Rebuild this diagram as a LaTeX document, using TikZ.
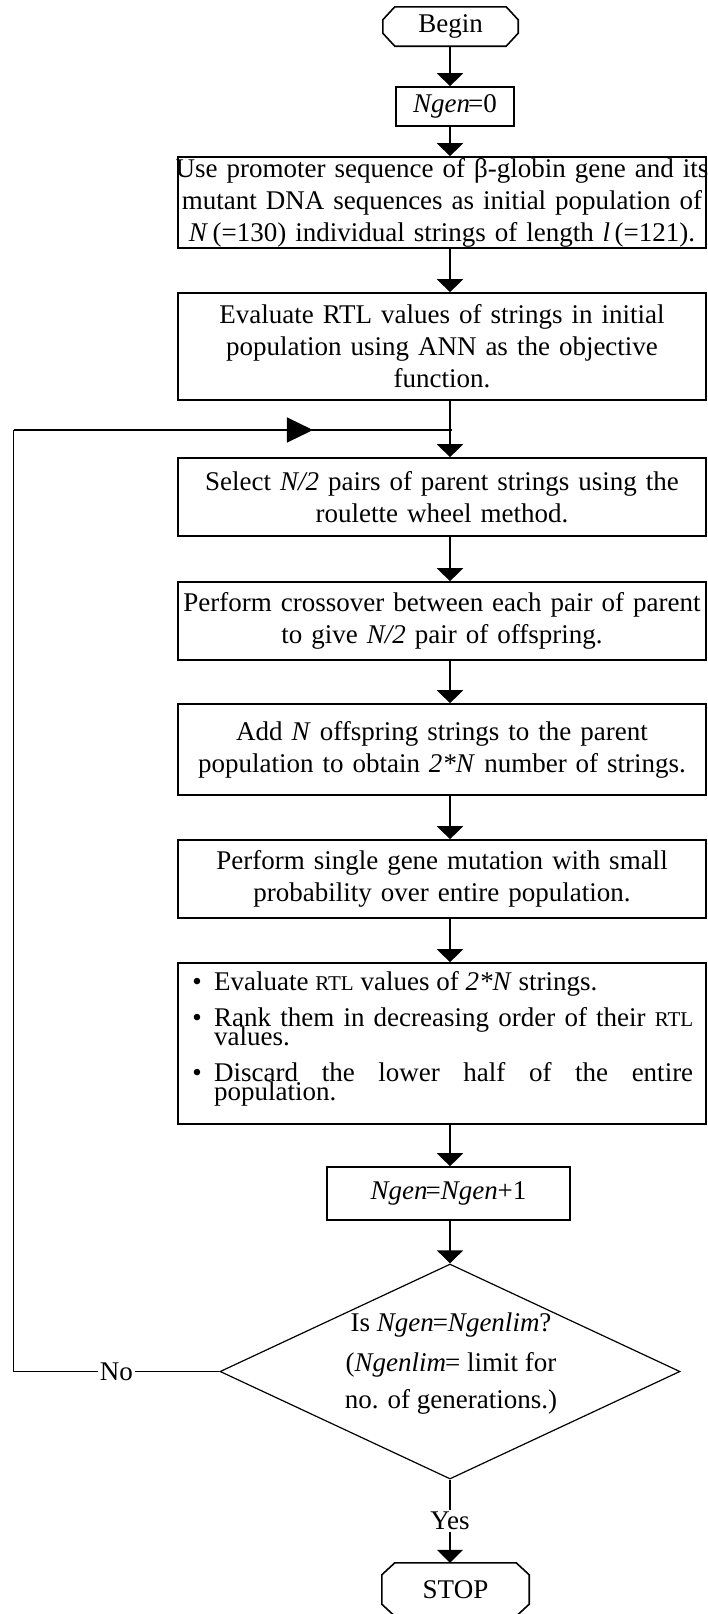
\documentclass[tikz,border=0pt]{standalone}
\usepackage{fontspec}
\setmainfont{Liberation Serif}
\usetikzlibrary{arrows.meta,shapes.geometric,decorations.markings}
\newcommand\myfs{\fontsize{27}{32}\selectfont}
\newcommand\smrtl{{\fontsize{21}{21}\selectfont RTL}}
\newcommand\fullline[1]{\makebox[528pt][c]{#1}}
\begin{document}
\begin{tikzpicture}[x=1pt,y=-1pt,
  boxline/.style={line width=1.6pt},
  proc/.style={draw, line width=1.6pt, text width=528pt, minimum width=528pt, inner sep=0pt, align=center, font=\myfs},
  smallbox/.style={draw, line width=1.6pt, inner sep=0pt, align=center, font=\myfs},
  term/.style={inner sep=0pt, font=\myfs},
  txt/.style={inner sep=0pt, font=\myfs, anchor=base west},
  conn/.style={line width=1.2pt},
  arr/.style={line width=1.2pt, -{Triangle[width=26pt,length=13pt]}},
  midarrow/.style={postaction={decorate}, decoration={markings, mark=at position 0.683 with {\arrow{Triangle[width=25pt,length=26pt]}}}}
]
\useasboundingbox (0,0) rectangle (707,1614);
\coordinate (ax) at (450,0);
\coordinate (fbx) at (13.5,0);

% terminals
\node[term, minimum width=135pt, minimum height=39pt] (begin) at (450.5,26.5) {Begin};
\draw[boxline] ([xshift=12pt]begin.north west) -- ([xshift=-12pt]begin.north east) -- ([yshift=-13pt]begin.north east) -- ([yshift=13pt]begin.south east) -- ([xshift=-12pt]begin.south east) -- ([xshift=12pt]begin.south west) -- ([yshift=13pt]begin.south west) -- ([yshift=-13pt]begin.north west) -- cycle;

\node[smallbox, minimum width=118pt, minimum height=39pt] (ngen0) at (455,106.5) {\textit{Ngen}\kern-2pt=0};

\node[proc, minimum height=91pt] (b1) at (442,202.5) {\fullline{Use promoter sequence of β-globin gene and its}\\ \fullline{mutant DNA sequences as initial population of}\\ \fullline{\textit{N}\,(=130) individual strings of length \textit{l}\,(=121).}};

\node[proc, minimum height=107pt] (b2) at (442,346.5) {Evaluate RTL values of strings in initial\\ population using ANN as the objective\\ function.};

\node[proc, minimum height=78pt] (b3) at (442,497) {Select \textit{N/2} pairs of parent strings using the\\ roulette wheel method.};

\node[proc, minimum height=78pt] (b4) at (442,621) {Perform crossover between each pair of parent\\ to give \textit{N/2} pair of offspring.};

\node[proc, minimum height=91pt] (b5) at (442,749.5) {Add \textit{N} offspring strings to the parent\\ population to obtain \textit{2*N} number of strings.};

\node[proc, minimum height=78pt] (b6) at (442,879) {Perform single gene mutation with small\\ probability over entire population.};

\node[proc, minimum height=161pt] (b7) at (442,1043.5) {};
\node[txt, anchor=base] (bu1) at (197,990) {•};
\node[txt] (l1) at (214,990) {Evaluate \smrtl{} values of \textit{2*N} strings.};
\node[txt, anchor=base] (bu2) at (197,1026) {•};
\node[txt] (l2) at (214,1026) {\makebox[479pt][s]{Rank them in decreasing order of their \smrtl}};
\node[txt] (l3) at (214,1045) {values.};
\node[txt, anchor=base] (bu3) at (197,1081) {•};
\node[txt] (l4) at (214,1081) {\makebox[479pt][s]{Discard the lower half of the entire}};
\node[txt] (l5) at (214,1100) {population.};

\node[smallbox, minimum width=243pt, minimum height=53pt] (b8) at (448.5,1193.5) {\textit{Ngen}\kern-2pt=\textit{Ngen}+1};

\node[draw, shape=diamond, line width=1.2pt, inner sep=0pt, minimum width=460pt, minimum height=215pt] (dia) at (450,1371.5) {};
\node[txt, anchor=base] (d1) at (451,1331) {Is \textit{Ngen}\kern-1pt=\textit{Ngenlim}?};
\node[txt, anchor=base] (d2) at (451,1371) {(\textit{Ngenlim}\kern-1pt= limit for};
\node[txt, anchor=base] (d3) at (451,1408) {no. of generations.)};

\node[term, minimum width=147pt, minimum height=53pt] (stop) at (455.5,1589.5) {STOP};
\draw[boxline] ([xshift=13pt]stop.north west) -- ([xshift=-13pt]stop.north east) -- ([yshift=-12pt]stop.north east) -- ([yshift=12pt]stop.south east) -- ([xshift=-13pt]stop.south east) -- ([xshift=13pt]stop.south west) -- ([yshift=12pt]stop.south west) -- ([yshift=-12pt]stop.north west) -- cycle;

% connectors
\draw[arr] (begin.south -| ax) -- (ngen0.north -| ax);
\draw[arr] (ngen0.south -| ax) -- (b1.north -| ax);
\draw[arr] (b1.south -| ax) -- (b2.north -| ax);
\draw[arr] (b2.south -| ax) -- (b3.north -| ax);
\draw[arr] (b3.south -| ax) -- (b4.north -| ax);
\draw[arr] (b4.south -| ax) -- (b5.north -| ax);
\draw[arr] (b5.south -| ax) -- (b6.north -| ax);
\draw[arr] (b6.south -| ax) -- (b7.north -| ax);
\draw[arr] (b7.south -| ax) -- (b8.north -| ax);
\draw[arr] (b8.south -| ax) -- (dia.north);
\draw[arr] (dia.south) -- node[fill=white, inner sep=2pt, font=\myfs] (yes) {Yes} (stop.north -| ax);

% feedback loop
\coordinate (fbtop) at (13.5,430);
\coordinate (fbjoin) at (452,430);
\draw[conn] (dia.west) -- node[fill=white, inner sep=2pt, font=\myfs] (no) {No} (dia.west -| fbx) -- (fbtop);
\draw[conn, midarrow] (fbtop) -- (fbjoin);
\end{tikzpicture}
\end{document}
